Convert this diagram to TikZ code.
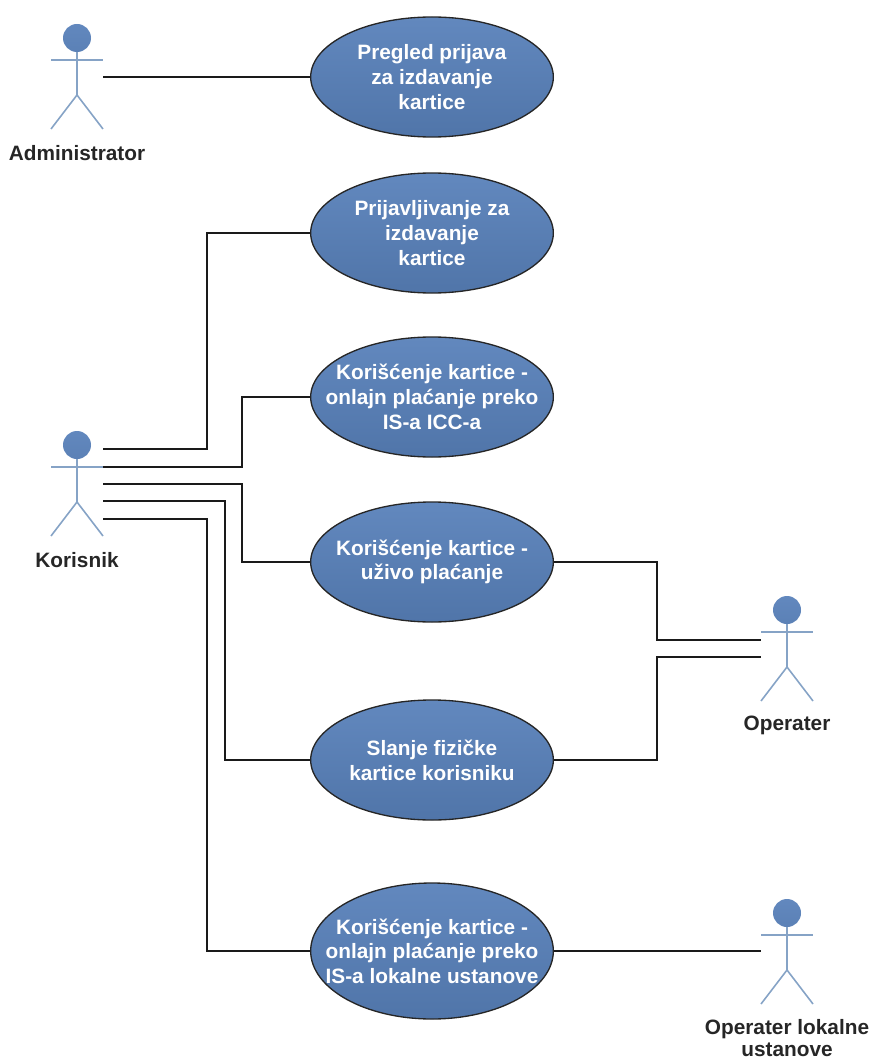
\documentclass[tikz,border=0pt]{standalone}
\usepackage{fontspec}
\setmainfont{Liberation Sans}
\usetikzlibrary{shapes.geometric}
\definecolor{ucfill}{HTML}{5B81B6}
\definecolor{uclight}{HTML}{6288BE}
\definecolor{ucdark}{HTML}{5075A9}
\definecolor{actorline}{HTML}{86A3C6}
\definecolor{wireblack}{HTML}{1A1A1A}
\tikzset{
	usecase/.style={ellipse,draw=black!85,line width=1pt,top color=uclight,bottom color=ucdark,text=white,inner xsep=-30pt,inner ysep=0pt,minimum width=182pt,minimum height=90pt,align=center,font=\fontsize{15.6}{18.5}\selectfont\bfseries},
	wire/.style={draw=wireblack,line width=1.4pt},
	stick/.style={draw=actorline,line width=1.2pt},
	actorname/.style={align=center,text=black!85,font=\fontsize{15.6}{16.5}\selectfont\bfseries,inner sep=0pt},
	actor/.pic={
		\node [circle,inner sep=0pt,minimum size=21pt,top color=uclight,bottom color=ucfill] (-head) at (0,0) {};
		\draw [stick] (-26,22) -- (26,22);
		\draw [stick] (-head) -- (0,57);
		\draw [stick] (-26,91) -- (0,57) -- (26,91);
	}
}

\begin{document}
\begin{tikzpicture}[x=0.75pt,y=-0.75pt]
	\useasboundingbox (0,0) rectangle (870,1059);

	\pic (admin) at (77,38) {actor};
	\pic (korisnik) at (77,445) {actor};
	\pic (operater) at (787,610) {actor};
	\pic (lokalni) at (787,913) {actor};

	\node [actorname] (adminname) at (77,153) {Administrator};
	\node [actorname] (korisnikname) at (77,560) {Korisnik};
	\node [actorname] (operatername) at (787,725) {Operater};
	\node [actorname] (lokalniname) at (787,1038) {Operater lokalne\\ustanove};

	\node [usecase] (pregled) at (432,77) {Pregled prijava\\za izdavanje\\kartice};
	\node [usecase] (prijava) at (432,233) {Prijavljivanje za\\izdavanje\\kartice};
	\node [usecase] (onlajn) at (432,397) {Korišćenje kartice -\\onlajn plaćanje preko\\IS-a ICC-a};
	\node [usecase] (uzivo) at (432,562) {Korišćenje kartice -\\uživo plaćanje};
	\node [usecase] (slanje) at (432,760) {Slanje fizičke\\kartice korisniku};
	\node [usecase,minimum height=102pt] (ustanova) at (432,951) {Korišćenje kartice -\\onlajn plaćanje preko\\IS-a lokalne ustanove};

	% free ends at the actors
	\coordinate (a1) at (103,77);
	\coordinate (k1) at (103,449);
	\coordinate (k2) at (103,467);
	\coordinate (k3) at (103,484);
	\coordinate (k4) at (103,501);
	\coordinate (k5) at (103,519);
	\coordinate (o1) at (761,640);
	\coordinate (o2) at (761,657);
	\coordinate (l1) at (761,951);

	% bends
	\coordinate (b1) at (207,340);
	\coordinate (b2) at (242,430);
	\coordinate (b3) at (242,520);
	\coordinate (b4) at (225,630);
	\coordinate (b5) at (207,730);
	\coordinate (b6) at (657,600);
	\coordinate (b7) at (657,710);

	\draw [wire] (a1) -- (pregled);
	\draw [wire] (k1) -| (b1) |- (prijava.west);
	\draw [wire] (k2) -| (b2) |- (onlajn.west);
	\draw [wire] (k3) -| (b3) |- (uzivo.west);
	\draw [wire] (k4) -| (b4) |- (slanje.west);
	\draw [wire] (k5) -| (b5) |- (ustanova.west);
	\draw [wire] (uzivo.east) -| (b6) |- (o1);
	\draw [wire] (slanje.east) -| (b7) |- (o2);
	\draw [wire] (ustanova) -- (l1);
\end{tikzpicture}
\end{document}
